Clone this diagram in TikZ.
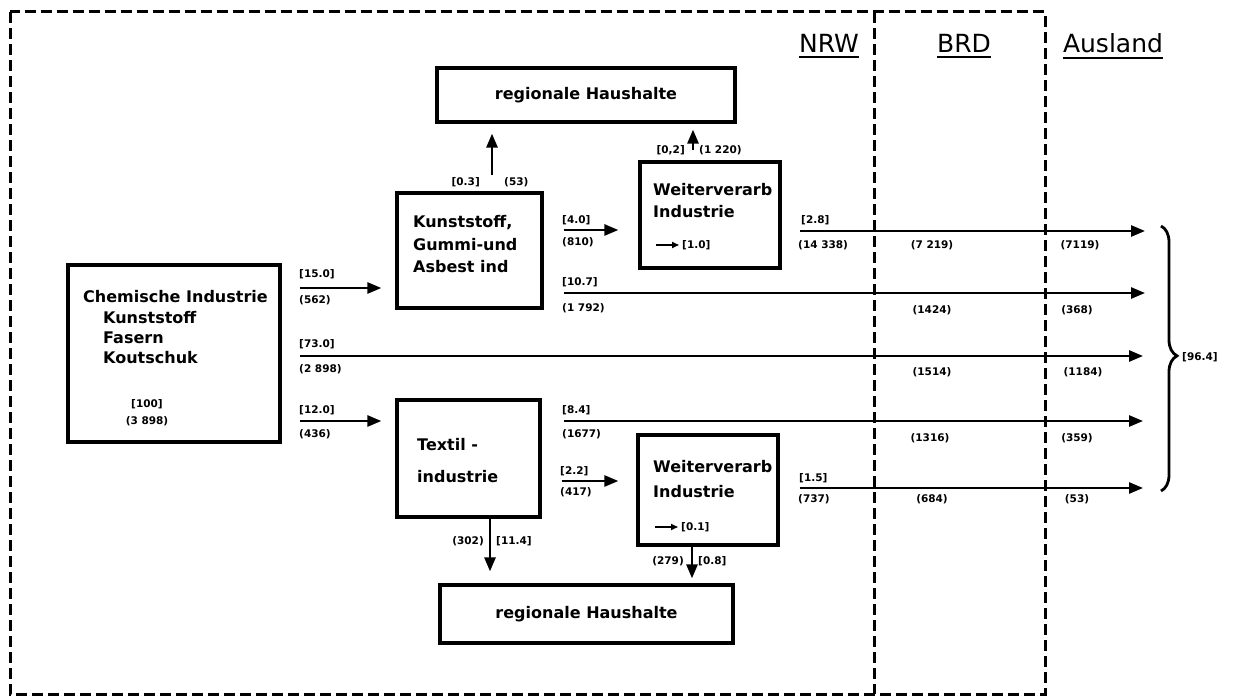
\documentclass[tikz,border=0pt]{standalone}
\usepackage{fontspec}
\setmainfont{DejaVu Sans}
\usetikzlibrary{arrows.meta,decorations.pathreplacing}
\begin{document}
\begin{tikzpicture}[x=1pt,y=-1pt,
  box/.style={draw,line width=3.2pt,inner sep=0pt,rectangle},
  boxfont/.style={font=\bfseries\fontsize{16}{19}\selectfont},
  boxtext/.style={boxfont,inner sep=0pt,anchor=west},
  lab/.style={font=\bfseries\fontsize{10.5}{12}\selectfont,inner sep=0pt},
  zone/.style={font=\fontsize{25}{30}\selectfont,inner sep=0pt},
  flow/.style={line width=2.6pt,-{Triangle[length=14pt,width=11pt]}},
  minarrow/.style={line width=1.6pt,-{Triangle[length=7pt,width=6pt]}},
  border/.style={line width=3pt,dash pattern=on 11pt off 5pt}
]
\useasboundingbox (0,0) rectangle (1237,700);
\fill[white] (0,0) rectangle (1237,700);

% region borders: NRW | BRD | Ausland
\draw[border] (10,12) rectangle (1045,694);
\draw[border] (874,12) -- (874,694);

\node[zone] (nrw) at (829,43) {NRW};
\node[zone] (brd) at (964,43) {BRD};
\node[zone] (ausl) at (1113,43) {Ausland};
\foreach \n in {nrw,brd,ausl}
  \draw[line width=2pt] ([yshift=-5pt]\n.south west) -- ([yshift=-5pt]\n.south east);

% boxes
\node[box,boxfont,minimum width=298pt,minimum height=54pt] (hh1) at (586,95) {regionale Haushalte};
\node[box,boxfont,minimum width=293pt,minimum height=58pt] (hh2) at (586.5,614) {regionale Haushalte};
\node[box,minimum width=212pt,minimum height=177pt] (chem) at (174,353.5) {};
\node[box,minimum width=145pt,minimum height=115pt] (kunst) at (469.5,250.5) {};
\node[box,minimum width=143pt,minimum height=117pt] (textil) at (468.5,458.5) {};
\node[box,minimum width=140pt,minimum height=106pt] (weiter1) at (710,215) {};
\node[box,minimum width=140pt,minimum height=110pt] (weiter2) at (708,490) {};

% box texts
\node[boxtext] (ch1) at (83,297) {Chemische Industrie};
\node[boxtext] (ch2) at (103,318) {Kunststoff};
\node[boxtext] (ch3) at (103,338) {Fasern};
\node[boxtext] (ch4) at (103,358) {Koutschuk};
\node[lab] (ch5) at (147,404) {[100]};
\node[lab] (ch6) at (147,421) {(3 898)};

\node[boxtext] (ku1) at (413,223) {Kunststoff,};
\node[boxtext] (ku2) at (413,245) {Gummi-und};
\node[boxtext] (ku3) at (413,267) {Asbest ind};

\node[boxtext] (te1) at (417,445) {Textil -};
\node[boxtext] (te2) at (417,477) {industrie};

\node[boxtext] (wa1) at (653,190) {Weiterverarb};
\node[boxtext] (wa2) at (653,212) {Industrie};
\coordinate (wa3) at (656,245);
\coordinate (wa4) at (679,245);
\draw[minarrow] (wa3) -- (wa4);
\node[lab,anchor=west] (wa5) at (682,245) {[1.0]};

\node[boxtext] (wb1) at (653,467) {Weiterverarb};
\node[boxtext] (wb2) at (653,492) {Industrie};
\coordinate (wb3) at (655,527);
\coordinate (wb4) at (678,527);
\draw[minarrow] (wb3) -- (wb4);
\node[lab,anchor=west] (wb5) at (681,527) {[0.1]};

% flow rows and columns
\coordinate (yA) at (0,288);
\coordinate (yB) at (0,356);
\coordinate (yC) at (0,421);
\coordinate (yD) at (0,230);
\coordinate (yE) at (0,293);
\coordinate (yF) at (0,231);
\coordinate (yG) at (0,481);
\coordinate (yH) at (0,488);
\coordinate (xK) at (492,0);
\coordinate (xW1) at (693,0);
\coordinate (xT) at (490,0);
\coordinate (xW2) at (692,0);
\coordinate (o1) at (1145,231);
\coordinate (o2) at (1145,293);
\coordinate (o3) at (1143,356);
\coordinate (o4) at (1143,421);
\coordinate (o5) at (1143,488);

% connectors
\draw[flow,shorten <=18pt,shorten >=14pt] (chem.east |- yA) -- (kunst.west |- yA);
\draw[flow,shorten <=18pt] (chem.east |- yB) -- (o3);
\draw[flow,shorten <=18pt,shorten >=14pt] (chem.east |- yC) -- (textil.west |- yC);
\draw[flow,shorten <=20pt,shorten >=20pt] (kunst.east |- yD) -- (weiter1.west |- yD);
\draw[flow,shorten <=20pt] (kunst.east |- yE) -- (o2);
\draw[flow,shorten <=16pt,shorten >=10pt] (kunst.north -| xK) -- (hh1.south -| xK);
\draw[flow,shorten <=10pt,shorten >=6pt] (weiter1.north -| xW1) -- (hh1.south -| xW1);
\draw[flow,shorten <=18pt] (weiter1.east |- yF) -- (o1);
\draw[flow,shorten <=22pt] (textil.east |- yC) -- (o4);
\draw[flow,shorten <=20pt,shorten >=18pt] (textil.east |- yG) -- (weiter2.west |- yG);
\draw[flow,shorten <=20pt] (weiter2.east |- yH) -- (o5);
\draw[flow,shorten >=12pt] (textil.south -| xT) -- (hh2.north -| xT);
\draw[flow,shorten >=5pt] (weiter2.south -| xW2) -- (hh2.north -| xW2);

% flow labels from the chemical industry
\node[lab,anchor=west] (l1) at (299,274) {[15.0]};
\node[lab,anchor=west] (l2) at (299,300) {(562)};
\node[lab,anchor=west] (l3) at (299,344) {[73.0]};
\node[lab,anchor=west] (l4) at (299,369) {(2 898)};
\node[lab,anchor=west] (l5) at (299,410) {[12.0]};
\node[lab,anchor=west] (l6) at (299,434) {(436)};

% flow labels from the processing stages
\node[lab,anchor=west] (l7) at (562,220) {[4.0]};
\node[lab,anchor=west] (l8) at (562,242) {(810)};
\node[lab,anchor=west] (l9) at (562,282) {[10.7]};
\node[lab,anchor=west] (l10) at (562,308) {(1 792)};
\node[lab,anchor=west] (l11) at (562,410) {[8.4]};
\node[lab,anchor=west] (l12) at (562,434) {(1677)};
\node[lab,anchor=west] (l13) at (560,471) {[2.2]};
\node[lab,anchor=west] (l14) at (560,492) {(417)};
\node[lab,anchor=west] (l15) at (801,220) {[2.8]};
\node[lab,anchor=west] (l16) at (798,245) {(14 338)};
\node[lab,anchor=west] (l17) at (799,478) {[1.5]};
\node[lab,anchor=west] (l18) at (798,499) {(737)};

% BRD column
\node[lab] (b1) at (932,245) {(7 219)};
\node[lab] (b2) at (932,310) {(1424)};
\node[lab] (b3) at (932,372) {(1514)};
\node[lab] (b4) at (930,438) {(1316)};
\node[lab] (b5) at (932,499) {(684)};

% Ausland column
\node[lab] (a1) at (1080,245) {(7119)};
\node[lab] (a2) at (1077,310) {(368)};
\node[lab] (a3) at (1083,372) {(1184)};
\node[lab] (a4) at (1077,438) {(359)};
\node[lab] (a5) at (1077,499) {(53)};

% household flows
\node[lab,anchor=east] (h1) at (480,182) {[0.3]};
\node[lab,anchor=west] (h2) at (504,182) {(53)};
\node[lab,anchor=east] (h3) at (685,150) {[0,2]};
\node[lab,anchor=west] (h4) at (699,150) {(1 220)};
\node[lab,anchor=east] (h5) at (484,541) {(302)};
\node[lab,anchor=west] (h6) at (496,541) {[11.4]};
\node[lab,anchor=east] (h7) at (684,561) {(279)};
\node[lab,anchor=west] (h8) at (698,561) {[0.8]};

% total exports
\coordinate (bt) at (1161,226);
\coordinate (bb) at (1161,491);
\draw[line width=2.8pt,decorate,decoration={brace,amplitude=16pt,aspect=0.49}] (bt) -- (bb);
\node[lab,anchor=west] (tot) at (1182,357) {[96.4]};
\end{tikzpicture}
\end{document}
